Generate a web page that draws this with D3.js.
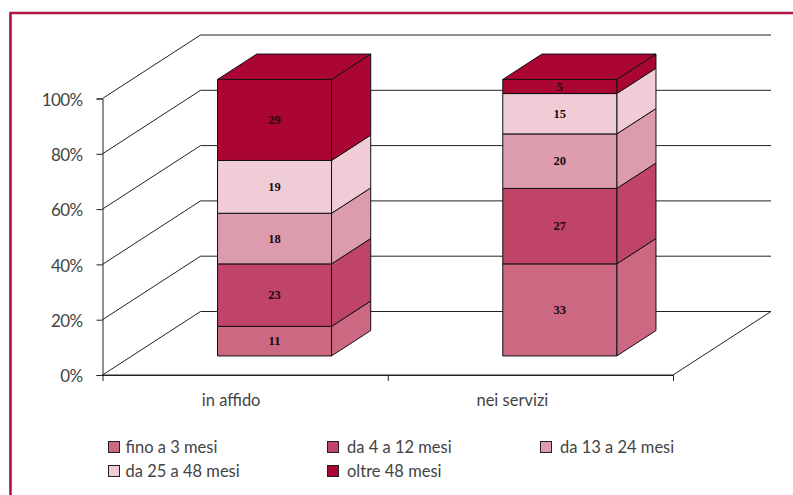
<!DOCTYPE html>
<html>
<head>
<meta charset="utf-8">
<script src="https://cdn.jsdelivr.net/npm/d3@7"></script>
<style>
    html, body { margin: 0; padding: 0; background: #fff; }
    svg { display: block; }
    text { font-family: Lato, "Open Sans", sans-serif; fill: #444; }
    .value { font-family: "Liberation Serif", serif; font-weight: bold; font-size: 12.5px; fill: #1a0a10; }
</style>
</head>
<body>
<div id="chart"></div>
<script>
var categories = ["in affido", "nei servizi"];
var seriesNames = ["fino a 3 mesi", "da 4 a 12 mesi", "da 13 a 24 mesi", "da 25 a 48 mesi", "oltre 48 mesi"];
var seriesColors = ["#cc6882", "#bf4468", "#dd9bae", "#efccd6", "#ab0534"];
// box heights, the printed labels are these rounded
var inAffido = [10.7, 22.6, 18.3, 19.1, 29.3];
var neiServizi = [33.3, 27.3, 19.7, 14.6, 5.1];
var percentTicks = [0, 20, 40, 60, 80, 100];

var width = 793, height = 495;
var depthX = 98, depthY = 63.5;   // how far the back wall sits from the front plane
var barFront = 0.3, barBack = 0.7; // bar position in the depth, 0 = front, 1 = wall
var lineColor = "#222";

var svg = d3.select("#chart").append("svg")
    .attr("width", width)
    .attr("height", height);

// page frame, only top and left
svg.append("path")
    .attr("d", "M10.5," + height + "V13H" + width)
    .attr("fill", "none")
    .attr("stroke", "#b0153f")
    .attr("stroke-width", 2.6);

var xEdge = d3.scaleLinear().domain([0, 2]).range([102.5, 673]);
var x = d3.scaleBand().domain(categories).range([102.5, 673]).paddingInner(0).paddingOuter(0);
var y = d3.scaleLinear().domain([0, 100]).range([375, 98.5]);
var barWidth = 114;

function px(xv, z) { return xv + z * depthX; }
function py(pct, z) { return y(pct) - z * depthY; }
function poly(points) {
    return d3.line()(points);
}

// walls: slanted line from the axis, then along the back
var grid = svg.append("g").attr("class", "grid");
grid.selectAll("path")
    .data(percentTicks)
    .join("path")
    .attr("d", function (d) {
        return poly([[xEdge(0), y(d)], [px(xEdge(0), 1), py(d, 1)], [px(xEdge(2), 1), py(d, 1)]]);
    })
    .attr("fill", "none")
    .attr("stroke", lineColor)
    .attr("stroke-width", 1);

// floor, front and right edge
svg.append("path")
    .attr("d", poly([[xEdge(0), y(0)], [xEdge(2), y(0)], [px(xEdge(2), 1), py(0, 1)]]))
    .attr("fill", "none")
    .attr("stroke", lineColor);

var yAxis = d3.axisLeft(y)
    .tickValues(percentTicks)
    .tickFormat(function (d) { return d + "%"; })
    .tickSize(6)
    .tickPadding(14);

var yG = svg.append("g")
    .attr("transform", "translate(" + xEdge(0) + ",0)")
    .call(yAxis);
yG.select(".domain").attr("stroke", lineColor);
yG.selectAll(".tick line").attr("stroke", lineColor);
yG.selectAll("text")
    .attr("dy", "0.39em")
    .style("font-size", "17px")
    .style("letter-spacing", "-0.6px")
    .style("font-family", "Lato");

var xAxis = d3.axisBottom(xEdge)
    .tickValues([0, 1, 2])
    .tickFormat("")
    .tickSize(6)
    .tickSizeOuter(0);

var xG = svg.append("g")
    .attr("transform", "translate(0," + y(0) + ")")
    .call(xAxis);
xG.select(".domain").attr("stroke", lineColor);
xG.selectAll(".tick line").attr("stroke", lineColor);

// stacked boxes
var rows = [inAffido, neiServizi];
categories.forEach(function (cat, c) {
    var center = x(cat) + x.bandwidth() / 2;
    var left = center - barWidth / 2;
    var right = center + barWidth / 2;
    var g = svg.append("g").attr("class", "bar");
    var base = 0;
    rows[c].forEach(function (v, i) {
        var top = base + v;
        var fill = seriesColors[i];
        g.append("path") // side
            .attr("d", poly([
                [px(right, barFront), py(base, barFront)],
                [px(right, barBack), py(base, barBack)],
                [px(right, barBack), py(top, barBack)],
                [px(right, barFront), py(top, barFront)]
            ]) + "Z")
            .attr("fill", fill).attr("stroke", "#111").attr("stroke-width", 1);
        g.append("path") // front
            .attr("d", poly([
                [px(left, barFront), py(base, barFront)],
                [px(right, barFront), py(base, barFront)],
                [px(right, barFront), py(top, barFront)],
                [px(left, barFront), py(top, barFront)]
            ]) + "Z")
            .attr("fill", fill).attr("stroke", "#111").attr("stroke-width", 1);
        if (i === rows[c].length - 1) {
            g.append("path") // lid
                .attr("d", poly([
                    [px(left, barFront), py(top, barFront)],
                    [px(right, barFront), py(top, barFront)],
                    [px(right, barBack), py(top, barBack)],
                    [px(left, barBack), py(top, barBack)]
                ]) + "Z")
                .attr("fill", fill).attr("stroke", "#111").attr("stroke-width", 1);
        }
        g.append("text")
            .attr("class", "value")
            .attr("x", px(center, barFront))
            .attr("y", py(base + v / 2, barFront) + 4)
            .attr("text-anchor", "middle")
            .text(Math.round(v));
        base = top;
    });
});

// category labels sit a bit left of the band centre
svg.selectAll(".cat")
    .data(categories)
    .join("text")
    .attr("class", "cat")
    .attr("x", function (d, i) { return x(d) + x.bandwidth() / 2 - [14, 18][i]; })
    .attr("y", 405.5)
    .attr("text-anchor", "middle")
    .style("font-size", "16.5px")
    .text(function (d) { return d; });

// legend
var legendX = [108, 327, 540];
var legendTextX = [17.5, 20, 20];
var legendY = [441, 465];
var legend = svg.selectAll(".legend")
    .data(seriesNames)
    .join("g")
    .attr("class", "legend")
    .attr("transform", function (d, i) {
        return "translate(" + legendX[i % 3] + "," + legendY[Math.floor(i / 3)] + ")";
    });
legend.append("rect")
    .attr("x", 0.5).attr("y", 0.5)
    .attr("width", 11).attr("height", 11)
    .attr("fill", function (d, i) { return seriesColors[i]; })
    .attr("stroke", "#222");
legend.append("text")
    .attr("x", function (d, i) { return legendTextX[i % 3]; })
    .attr("y", 11.5)
    .style("font-size", "16.5px")
    .text(function (d) { return d; });
</script>
</body>
</html>
